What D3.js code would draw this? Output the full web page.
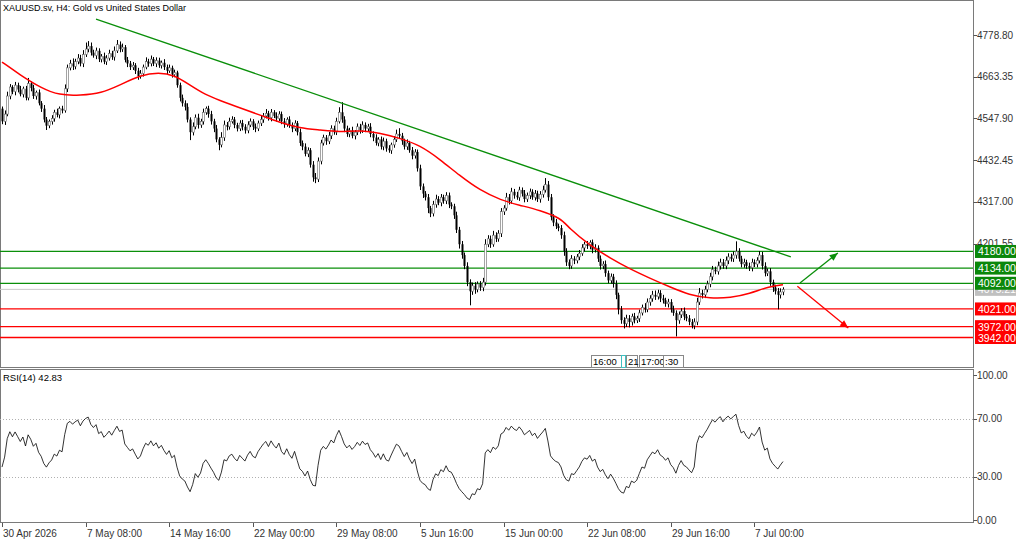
<!DOCTYPE html>
<html>
<head>
<meta charset="utf-8">
<script src="https://cdn.jsdelivr.net/npm/d3@7"></script>
<style>
  body { margin: 0; background: #fff; }
  text { font-family: "Liberation Sans", Arial, sans-serif; }
</style>
</head>
<body>
<div id="chart"></div>
<script>
// ---- data ----
var title = "XAUUSD.sv, H4:  Gold vs United States Dollar"
var rsiLabel = "RSI(14) 42.83"
var firstOpen = 4575
var rsiSeed = [5,6]   // avg gain / avg loss carried in from before the window
var closes = [
  4540,4560,4610,4635,4622,4640,4628,4615,4630,4605,
  4645,4632,4610,4620,4590,4575,4545,4528,4540,4548,
  4565,4558,4575,4570,4630,4688,4700,4692,4705,4715,
  4700,4725,4740,4748,4730,4722,4735,4712,4720,4705,
  4715,4728,4718,4735,4752,4740,4745,4710,4700,4690,
  4695,4680,4665,4672,4690,4705,4700,4712,4700,4708,
  4695,4702,4690,4680,4688,4670,4675,4640,4605,4590,
  4580,4545,4510,4525,4550,4530,4540,4565,4575,4560,
  4540,4520,4490,4475,4495,4530,4525,4540,4545,4530,
  4520,4535,4525,4515,4530,4540,4525,4520,4535,4545,
  4555,4562,4550,4565,4555,4548,4560,4540,4532,4545,
  4530,4520,4535,4510,4480,4470,4450,4460,4420,4385,
  4380,4430,4480,4495,4485,4500,4520,4510,4540,4565,
  4545,4520,4505,4515,4500,4510,4525,4515,4530,4520,
  4525,4505,4495,4480,4490,4470,4485,4465,4460,4475,
  4490,4505,4500,4485,4470,4480,4460,4445,4455,4410,
  4360,4340,4330,4300,4285,4310,4325,4315,4330,4320,
  4335,4310,4305,4280,4240,4200,4170,4140,4095,4070,
  4085,4075,4090,4080,4095,4200,4215,4200,4225,4215,
  4230,4290,4300,4330,4320,4345,4335,4330,4350,4340,
  4325,4335,4345,4330,4340,4325,4338,4350,4365,4330,
  4275,4260,4250,4245,4225,4180,4150,4140,4160,4155,
  4165,4175,4190,4200,4195,4205,4185,4190,4160,4140,
  4145,4120,4100,4110,4090,4060,4020,3990,3980,3995,
  3985,4000,3990,3995,4010,4025,4020,4040,4050,4060,
  4055,4065,4050,4045,4035,4040,4020,4010,3990,4005,
  4015,4000,3995,3985,3975,3985,4040,4065,4060,4075,
  4090,4110,4130,4125,4140,4150,4140,4155,4165,4160,
  4170,4180,4160,4145,4150,4140,4135,4150,4145,4155,
  4170,4140,4120,4125,4095,4080,4070,4060,4068,4075
]
var upWick = [
  6,10,12,8,5,9,7,10,6,8, 15,6,9,5,8,6,10,7,5,9,
  7,10,6,8,12,9,10,14,8,11, 9,12,18,14,10,8,9,7,6,10,
  8,10,7,12,13,9,10,6,8,7, 9,6,8,10,7,12,8,10,6,9,
  8,6,10,7,9,6,8,5,7,9, 8,10,6,12,9,11,7,10,6,8,
  9,7,10,6,15,12,8,10,9,7, 6,8,9,7,10,8,6,9,7,10,
  8,12,7,9,6,10,8,7,9,6, 9,7,8,6,10,7,9,8,6,10,
  12,10,9,8,7,11,9,8,10,14, 28,9,8,7,10,6,9,8,10,7,
  8,10,7,9,6,8,10,7,9,6, 9,12,16,8,7,10,6,9,8,7,
  10,8,7,9,6,10,12,8,9,7, 9,8,6,7,10,8,9,7,10,8,
  9,10,7,8,12,14,10,9,12,8, 9,10,8,12,9,11,8,10,9,7,
  10,8,9,7,10,8,9,12,18,10, 9,8,10,7,8,10,9,8,10,7,
  8,9,10,7,9,6,8,10,7,9, 8,10,7,9,8,10,6,9,8,10,
  9,8,10,7,9,8,12,10,9,11, 12,9,8,10,7,9,8,10,7,9,
  8,10,7,9,8,10,12,14,9,10, 9,11,10,8,12,10,9,11,10,9,
  10,28,9,8,10,7,9,10,8,9, 11,9,10,8,9,7,8,9,10,6
]
var dnWick = [
  8,10,6,9,7,10,8,6,9,7, 7,9,8,10,6,9,8,12,7,9,
  9,7,10,8,6,9,7,10,8,7, 8,10,7,9,8,6,10,8,9,7,
  9,7,8,10,6,9,8,7,10,8, 8,9,10,7,8,6,9,8,7,10,
  7,9,8,10,6,9,8,7,10,9, 10,8,22,9,7,10,8,9,7,10,
  9,10,8,15,7,9,10,8,6,9, 8,7,10,9,8,6,9,10,7,8,
  9,7,8,10,6,9,7,8,10,7, 8,10,7,9,8,10,7,9,8,12,
  11,8,9,7,10,8,9,7,8,6, 9,10,8,9,7,10,8,9,7,10,
  8,9,10,7,9,8,10,9,7,10, 8,7,9,10,8,9,7,10,8,9,
  10,12,9,14,10,8,9,7,10,8, 9,10,8,10,9,12,10,9,11,39,
  10,12,8,9,10,9,8,10,7,9, 8,10,9,7,10,8,9,7,10,8,
  9,8,10,7,9,8,10,9,7,10, 9,10,8,9,10,12,10,9,8,10,
  8,9,7,10,8,9,10,8,9,10, 9,10,8,9,10,12,14,10,13,9,
  15,10,9,8,10,7,9,8,10,9, 9,8,10,9,8,10,9,8,45,10,
  9,10,8,9,8,10,9,8,10,9, 8,9,10,8,9,10,8,9,10,8,
  9,10,8,9,10,8,9,10,8,9, 8,10,9,8,10,12,9,40,10,9
]
// moving average, sampled [bar, price]
var maPoints = [
  [0,4704],[7,4668],[15,4632],[22,4612],[30,4612],[38,4618],[45,4640],[53,4668],
  [60,4676],[66,4668],[72,4640],[78,4613],[83,4599],[91,4577],[99,4557],[106,4538],
  [114,4521],[122,4516],[129,4510],[137,4516],[145,4507],[152,4494],[160,4474],
  [168,4433],[175,4391],[183,4349],[191,4322],[198,4308],[206,4294],[214,4272],
  [217,4245],[225,4197],[233,4161],[240,4133],[248,4106],[256,4081],[263,4060],
  [271,4050],[279,4052],[286,4063],[294,4084],[299,4088]
]
var trendLine = [[36,4823],[302,4165]]
var upArrow = [[305.5,4093],[320,4176]]
var downArrow = [[304.5,4084],[324,3968]]
var greenLevels = [4180,4134,4092]
var redLevels = [4021,3972,3942]
var bidPrice = 4075.21
var priceTicks = [4778.80,4663.35,4547.90,4432.45,4317.00,4201.55]
var rsiTicks = [100,70,30,0]
var rsiLevels = [70,30]
var dateTicks = [0,32,64,96,128,160,192,224,256,288]
var dateLabels = ["30 Apr 2026","7 May 08:00","14 May 16:00","22 May 00:00","29 May 08:00",
                  "5 Jun 16:00","15 Jun 00:00","22 Jun 08:00","29 Jun 16:00","7 Jul 00:00"]
var vlineLabels = [["16:00",591,30],["",621,4],["21",626,11],["17:00",639,24],[":30",663,20]]

class chart {
  constructor(parent){
    this.parent = parent
    this.width = 1024
    this.height = 543
    this.right = 973
    this.x = d3.scaleLinear().domain([0,299]).range([2,783])
    this.y = d3.scaleLinear().domain([3942,4778.8]).range([337.5,35])
    this.ry = d3.scaleLinear().domain([0,100]).range([520,375])
    this.bars = closes.map((c,i) => {
      var o = i == 0 ? firstOpen : closes[i-1]
      return {i:i, o:o, c:c, h:Math.max(o,c)+upWick[i], l:Math.min(o,c)-dnWick[i]}
    })
    this.draw()
  }
  draw(){
    this.svg = this.parent.append('svg')
                  .attr("width",this.width)
                  .attr("height",this.height)
    var svg = this.svg, x = this.x, y = this.y, R = this.right
    // frames
    svg.append('rect').attr("x",0.5).attr("y",0.5).attr("width",R).attr("height",367)
       .attr("fill","none").attr("stroke","#7a7a7a")
    svg.append('rect').attr("x",0.5).attr("y",369.5).attr("width",R).attr("height",153)
       .attr("fill","none").attr("stroke","#7a7a7a")
    svg.append('text').attr("x",3).attr("y",11).attr("font-size",9).attr("fill","#000").text(title)

    // price axis
    priceTicks.forEach(p => {
      svg.append('line').attr("x1",R+0.5).attr("x2",R+4).attr("y1",Math.round(y(p))+0.5).attr("y2",Math.round(y(p))+0.5).attr("stroke","#555")
      svg.append('text').attr("x",R+4).attr("y",y(p)+3.5).attr("font-size",10).attr("fill","#333").text(p.toFixed(2))
    })

    // horizontal levels
    svg.append('line').attr("x1",0).attr("x2",R).attr("y1",y(bidPrice)).attr("y2",y(bidPrice)).attr("stroke","#c8c8c8")
    greenLevels.forEach(p => {
      svg.append('line').attr("x1",0).attr("x2",R).attr("y1",y(p)).attr("y2",y(p))
         .attr("stroke","#0a8f0a").attr("stroke-width",1.3)
    })
    redLevels.forEach(p => {
      svg.append('line').attr("x1",0).attr("x2",R).attr("y1",y(p)).attr("y2",y(p))
         .attr("stroke","#ff0000").attr("stroke-width",1.3)
    })

    // candles
    var g = svg.append('g')
    g.selectAll('line.wick').data(this.bars).enter().append('line')
       .attr("x1",d => Math.round(x(d.i))+0.5).attr("x2",d => Math.round(x(d.i))+0.5)
       .attr("y1",d => y(d.h)).attr("y2",d => y(d.l))
       .attr("stroke","#000").attr("stroke-width",1)
    g.selectAll('rect.body').data(this.bars).enter().append('rect')
       .attr("x",d => Math.round(x(d.i))-0.5)
       .attr("y",d => y(Math.max(d.o,d.c)))
       .attr("width",2)
       .attr("height",d => Math.max(1,Math.abs(y(d.o)-y(d.c))))
       .attr("fill",d => d.c >= d.o ? "#fff" : "#000")
       .attr("stroke",d => d.c >= d.o ? "#666" : "none")
       .attr("stroke-width",0.6)

    // moving average
    svg.append('path').datum(maPoints)
       .attr("d",d3.line().x(d => x(d[0])).y(d => y(d[1])).curve(d3.curveBasis))
       .attr("fill","none").attr("stroke","#ff0000").attr("stroke-width",1.5)

    // trendline and arrows
    svg.append('line').attr("x1",x(trendLine[0][0])).attr("y1",y(trendLine[0][1]))
       .attr("x2",x(trendLine[1][0])).attr("y2",y(trendLine[1][1]))
       .attr("stroke","#0a8f0a").attr("stroke-width",1.3)
    this.arrow(upArrow,"#0a8f0a")
    this.arrow(downArrow,"#ff0000")

    // price labels on the right
    this.tag(bidPrice,"#c0c0c0")
    greenLevels.forEach(p => this.tag(p,"#0a870a"))
    redLevels.forEach(p => this.tag(p,"#ff0000"))

    // vertical line labels
    vlineLabels.forEach(v => {
      svg.append('rect').attr("x",v[1]+0.5).attr("y",355.5).attr("width",v[2]).attr("height",12)
         .attr("fill","#fff").attr("stroke", v[0]=="" ? "#40c0c0" : "#888")
      svg.append('text').attr("x",v[1]+2).attr("y",365).attr("font-size",9.5).attr("fill","#000").text(v[0])
    })

    this.drawRsi()

    // date axis
    svg.append('line').attr("x1",0).attr("x2",R).attr("y1",522.5).attr("y2",522.5).attr("stroke","#7a7a7a")
    dateTicks.forEach((t,k) => {
      var px = Math.round(x(t))+0.5
      svg.append('line').attr("x1",px).attr("x2",px).attr("y1",523).attr("y2",527).attr("stroke","#555")
      svg.append('text').attr("x",px+0.5).attr("y",537).attr("font-size",10).attr("fill","#333").text(dateLabels[k])
    })
  }
  arrow(pts,color){
    var x1 = this.x(pts[0][0]), y1 = this.y(pts[0][1]), x2 = this.x(pts[1][0]), y2 = this.y(pts[1][1])
    var a = Math.atan2(y2-y1,x2-x1), L = 9, w = 0.4
    this.svg.append('line').attr("x1",x1).attr("y1",y1).attr("x2",x2).attr("y2",y2)
       .attr("stroke",color).attr("stroke-width",1.3)
    this.svg.append('path')
       .attr("d","M"+x2+","+y2+"L"+(x2-L*Math.cos(a-w))+","+(y2-L*Math.sin(a-w))+
                 "L"+(x2-L*Math.cos(a+w))+","+(y2-L*Math.sin(a+w))+"Z")
       .attr("fill",color)
  }
  tag(p,color){
    var cy = this.y(p)
    this.svg.append('rect').attr("x",this.right+2).attr("y",cy-6.5).attr("width",41).attr("height",13).attr("fill",color)
    this.svg.append('text').attr("x",this.right+5).attr("y",cy+4).attr("font-size",10.5).attr("fill","#fff").text(p.toFixed(2))
  }
  drawRsi(){
    var svg = this.svg, x = this.x, ry = this.ry, R = this.right
    // RSI(14), Wilder smoothing, seeded with averages from before the window
    var ag = rsiSeed[0], al = rsiSeed[1], rsi = []
    for (var i = 0; i < closes.length; i++) {
      var ch = closes[i]-(i == 0 ? firstOpen : closes[i-1])
      var gn = ch > 0 ? ch : 0, ls = ch < 0 ? -ch : 0
      ag = (ag*13+gn)/14
      al = (al*13+ls)/14
      rsi.push([i, 100-100/(1+ag/al)])
    }
    rsiLevels.forEach(v => {
      svg.append('line').attr("x1",0).attr("x2",R).attr("y1",Math.round(ry(v))+0.5).attr("y2",Math.round(ry(v))+0.5)
         .attr("stroke","#b0b0b0").attr("stroke-dasharray","1,2")
    })
    rsiTicks.forEach(v => {
      svg.append('line').attr("x1",R+0.5).attr("x2",R+4).attr("y1",Math.round(ry(v))+0.5).attr("y2",Math.round(ry(v))+0.5).attr("stroke","#555")
      svg.append('text').attr("x",R+4).attr("y",ry(v)+3.5).attr("font-size",10).attr("fill","#333").text(v.toFixed(2))
    })
    svg.append('path').datum(rsi)
       .attr("d",d3.line().x(d => x(d[0])).y(d => ry(d[1])))
       .attr("fill","none").attr("stroke","#000").attr("stroke-width",0.8)
    svg.append('text').attr("x",3).attr("y",381).attr("font-size",9.5).attr("fill","#000").text(rsiLabel)
  }
};

var ch = new chart(d3.select('body').select("#chart"))
</script>
</body>
</html>
